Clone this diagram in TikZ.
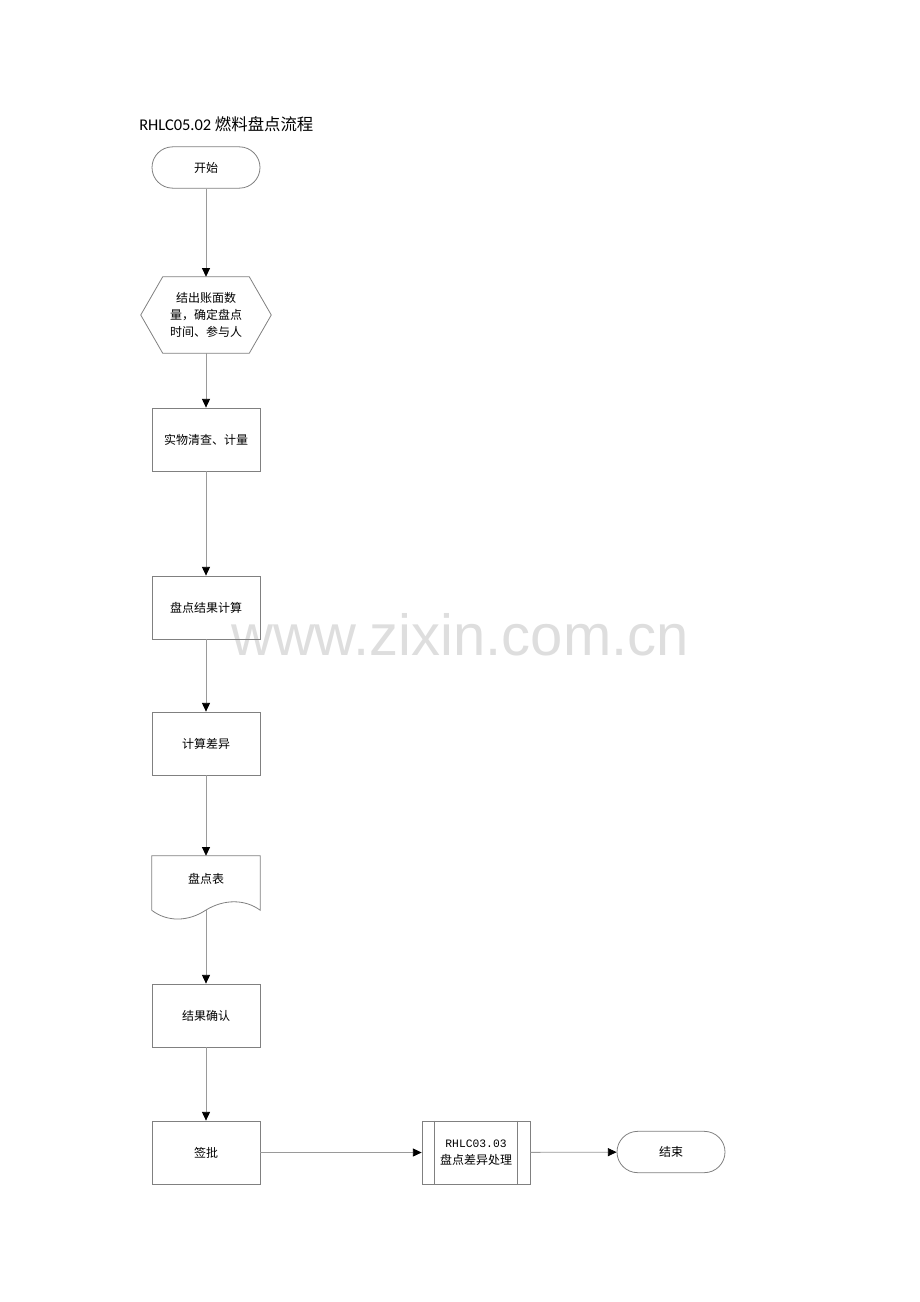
\documentclass[tikz,border=0pt]{standalone}
\usepackage{fontspec}
\setmainfont{Carlito}
\newfontfamily\cjk{Noto Sans CJK SC}
\newfontfamily\wmfont{Liberation Sans}
\newfontfamily\monofont{Liberation Mono}
\usetikzlibrary{arrows.meta,calc}
\definecolor{boxline}{HTML}{808080}
\definecolor{connline}{HTML}{9A9A9A}
\definecolor{wmgray}{HTML}{DEDEDE}
\begin{document}
\begin{tikzpicture}[x=0.75pt,y=-0.75pt,
  every node/.style={font=\cjk\fontsize{9}{12.5}\selectfont, inner sep=0pt},
  procbox/.style={draw=boxline, line width=0.6pt, minimum width=81pt, minimum height=47.25pt},
  termbox/.style={draw=boxline, line width=0.6pt, minimum width=81pt, minimum height=31pt, rounded corners=15.5pt},
  conn/.style={draw=connline, line width=0.6pt, -{Triangle[length=6.5pt,width=6pt,color=black]}},
  outline/.style={draw=boxline, line width=0.6pt}
]
\useasboundingbox (0,0) rectangle (920,1302);

% title
\node[anchor=west, font=\fontsize{12.3}{14}\selectfont] (title) at (139,124) {RHLC05.02 {\cjk 燃料盘点流程}};

% watermark
\node[font=\wmfont\fontsize{43.5}{48}\selectfont, text=wmgray] (wm) at (460,635) {www.zixin.com.cn};

% start
\node[termbox] (start) at (206,167.5) {开始};

% hexagon
\node[minimum width=97.5pt, minimum height=57pt, align=center] (hex) at (206,315) {结出账面数\\量，确定盘点\\时间、参与人};
\draw[outline] (hex.west) -- ($(hex.north west)+(22,0)$) -- ($(hex.north east)+(-22,0)$) -- (hex.east) -- ($(hex.south east)+(-22,0)$) -- ($(hex.south west)+(22,0)$) -- cycle;

% process boxes
\node[procbox] (r1) at (206,439.5) {实物清查、计量};
\node[procbox] (r2) at (206,607.5) {盘点结果计算};
\node[procbox] (r3) at (206,743.5) {计算差异};

% document
\node[minimum width=81pt, minimum height=40.5pt] (doc) at (206,883) {};
\node (doctext) at (206,879) {盘点表};
\draw[outline] (doc.south west) -- (doc.north west) -- (doc.north east) -- (doc.south east)
  .. controls (245,899) and (224,899) .. (206,910)
  .. controls (188,922) and (167,922) .. (doc.south west);

\node[procbox] (r4) at (206,1015.5) {结果确认};
\node[procbox] (r5) at (206,1152.5) {签批};

% predefined process
\node[procbox, align=center] (pp) at (476,1152.5) {{\monofont\fontsize{8.5}{12.5}\selectfont RHLC03.03}\\盘点差异处理};
\draw[outline] ([xshift=9.75pt]pp.north west) -- ([xshift=9.75pt]pp.south west);
\draw[outline] ([xshift=-9.75pt]pp.north east) -- ([xshift=-9.75pt]pp.south east);

% end
\node[termbox] (end) at (671,1152) {结束};

% connectors
\draw[conn] (start) -- (hex);
\draw[conn] (hex) -- (r1);
\draw[conn] (r1) -- (r2);
\draw[conn] (r2) -- (r3);
\draw[conn] (r3) -- (doc);
\draw[conn] (doc.south) -- (r4);
\draw[conn] (r4) -- (r5);
\draw[conn] (r5) -- (pp);
\draw[conn] (pp) -- (end);
\end{tikzpicture}
\end{document}
